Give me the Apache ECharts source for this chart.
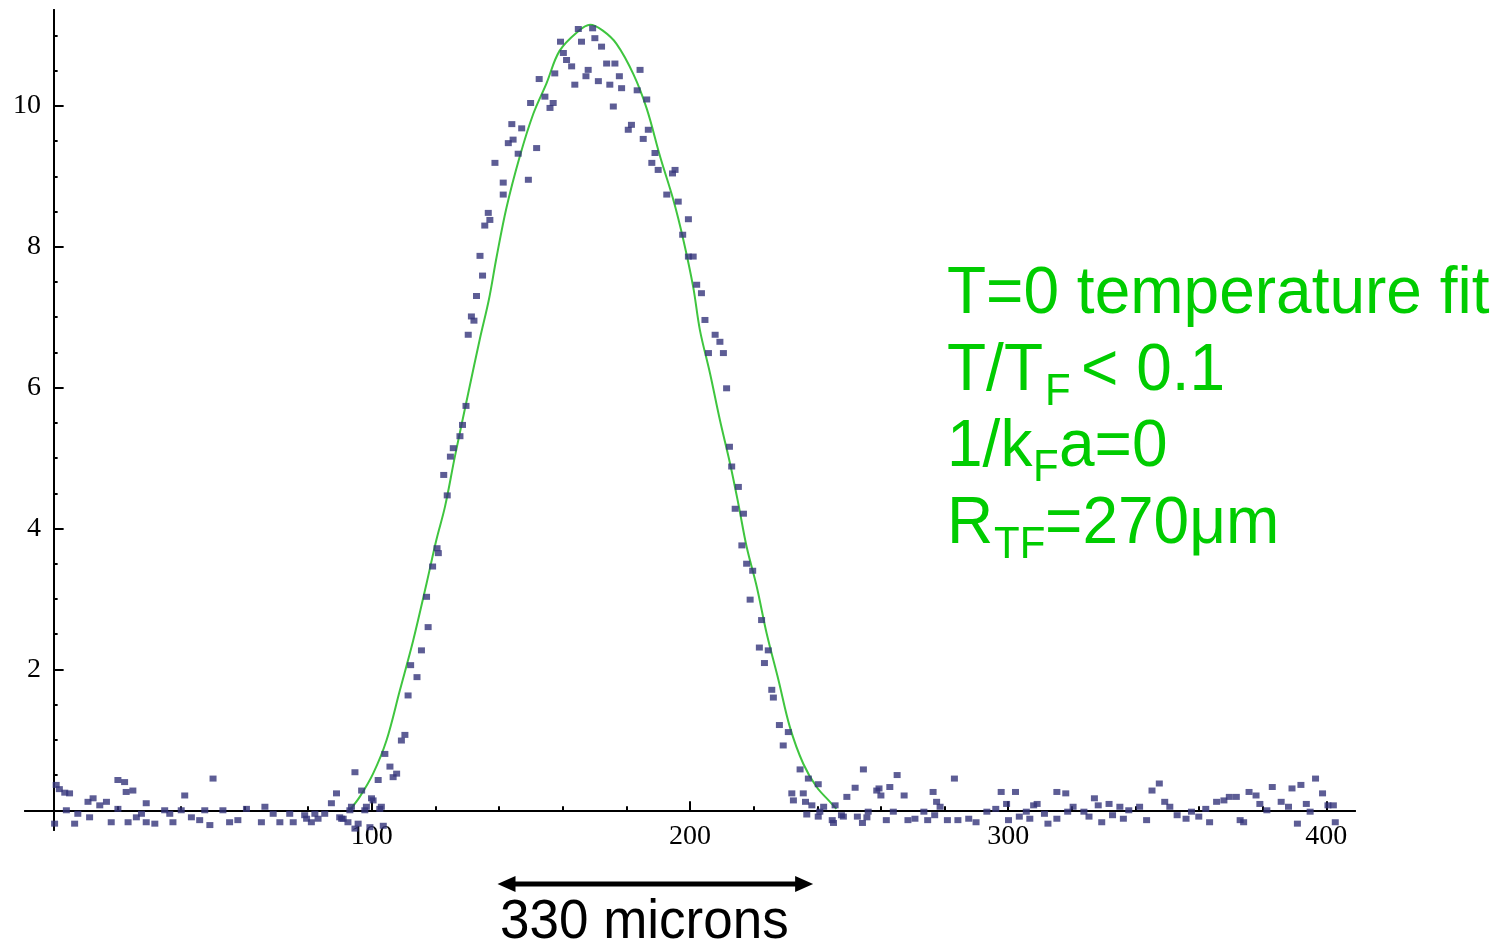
<!DOCTYPE html>
<html>
<head>
<meta charset="utf-8">
<title>T=0 temperature fit</title>
<script src="https://cdn.jsdelivr.net/npm/echarts@6/dist/echarts.min.js"></script>
<style>
	html, body { margin: 0; padding: 0; background: #ffffff; }
	#main { width: 1504px; height: 942px; }
</style>
</head>
<body>
<div id="main"></div>
<script>
	var wingLeft = [
		[0.3, -0.19], [0.8, 0.36], [1.8, 0.30], [3.5, 0.25], [4.0, 0.0], [5.0, 0.24], [6.6, -0.19], [7.6, -0.05],
		[10.8, 0.12], [11.3, -0.10], [12.4, 0.17], [14.5, 0.07], [16.6, 0.12], [18.1, -0.17], [20.2, 0.43], [20.2, 0.02],
		[22.3, 0.40], [22.8, 0.26], [23.4, -0.17], [24.9, 0.28], [26.0, -0.10], [27.6, -0.05], [29.1, 0.10], [29.1, -0.17],
		[31.8, -0.19], [34.9, 0.0], [36.5, -0.05], [37.5, -0.17], [40.1, 0.0], [41.2, 0.21], [43.3, -0.10], [45.9, -0.14],
		[47.5, 0.0], [49.1, -0.21], [50.1, 0.45], [53.2, 0.0], [55.3, -0.17], [57.9, -0.14], [60.6, 0.02], [65.3, -0.17],
		[66.4, 0.05], [69.0, -0.05], [71.1, -0.17], [74.2, -0.05], [75.3, -0.17], [78.9, -0.07], [79.5, -0.12], [81.0, -0.17],
		[82.1, -0.05], [83.1, -0.12], [85.2, -0.05], [87.3, 0.10], [88.9, 0.24], [89.9, -0.10], [90.5, -0.12], [91.0, -0.12],
		[92.5, -0.17], [93.1, 0.0], [93.6, 0.05], [94.7, 0.54], [94.7, -0.26], [95.7, -0.19], [96.8, 0.28], [97.8, 0.0],
		[98.3, 0.05], [99.4, -0.24], [99.9, 0.17]
	];
	var cloudRise = [
		[100.4, 0.14], [102.0, 0.43], [102.5, 0.02], [103.0, 0.05], [103.6, -0.22], [104.1, 0.80], [105.7, 0.62], [106.7, 0.47],
		[107.8, 0.52], [109.3, 0.99], [110.4, 1.07], [111.4, 1.63], [112.2, 2.06], [114.2, 1.89], [115.6, 2.27], [117.2, 3.03],
		[117.7, 2.60], [119.1, 3.46], [120.5, 3.72], [120.9, 3.65], [122.6, 4.76], [123.7, 4.47], [124.7, 5.02], [125.6, 5.14],
		[127.7, 5.31], [128.5, 5.47], [129.6, 5.74], [130.3, 6.75], [131.3, 7.01], [132.1, 6.95], [132.9, 7.30], [134.0, 7.87],
		[134.8, 7.59], [135.5, 8.30], [136.6, 8.48], [137.1, 8.38], [138.7, 9.19], [141.3, 8.74], [141.3, 8.91], [142.9, 9.47],
		[144.0, 9.74], [144.4, 9.52], [146.0, 9.32], [147.1, 9.68], [149.2, 8.95], [149.9, 10.04], [151.8, 9.40], [152.6, 10.38],
		[154.4, 10.13], [156.0, 9.97], [157.0, 10.04], [157.5, 10.46], [159.3, 10.91]
	];
	var cloudTop = [
		[160.2, 10.75], [161.2, 10.65], [162.8, 10.56], [163.8, 10.30], [164.9, 11.09], [165.9, 10.91], [167.3, 10.42], [168.0, 10.51],
		[169.4, 11.10], [170.1, 10.96], [171.2, 10.35], [172.2, 10.84], [173.8, 10.60], [174.8, 10.30], [175.9, 9.99], [176.4, 10.60],
		[177.8, 10.42], [178.5, 10.25], [180.6, 9.66], [181.6, 9.73], [183.4, 10.22], [184.3, 10.51]
	];
	var cloudFall = [
		[185.3, 9.53], [186.4, 10.09], [186.9, 9.66], [188.0, 9.19], [189.0, 9.33], [190.0, 9.09], [192.7, 8.74], [194.5, 9.04],
		[195.3, 9.09], [196.3, 8.64], [197.7, 8.17], [199.5, 8.39], [199.5, 7.86], [201.0, 7.86], [202.1, 7.46], [203.6, 7.34],
		[204.7, 6.96], [205.8, 6.49], [207.9, 6.75], [209.4, 6.65], [210.5, 6.49], [211.5, 5.99], [212.4, 5.16], [213.1, 4.88],
		[214.2, 4.28], [215.2, 4.59], [216.3, 3.76], [216.8, 4.21], [217.8, 3.50], [218.9, 2.99], [219.7, 3.40], [221.8, 2.31],
		[222.5, 2.70], [223.4, 2.09], [224.6, 2.27], [225.7, 1.71], [226.2, 1.60], [228.1, 1.21], [229.3, 0.92], [230.9, 1.11],
		[232.0, 0.24], [232.5, 0.14], [234.6, 0.58], [235.6, 0.24], [236.3, 0.12], [236.7, -0.06], [237.2, 0.45], [238.3, 0.07],
		[240.3, 0.37], [240.3, -0.09], [240.8, -0.02], [242.0, 0.05], [244.7, -0.14], [245.1, -0.18], [245.6, 0.07], [247.6, -0.07],
		[248.2, -0.09], [249.3, 0.19]
	];
	var wingRight = [
		[251.9, 0.32], [252.6, -0.09], [254.2, -0.18], [254.5, 0.58], [255.6, -0.10], [256.0, -0.02], [258.7, 0.28], [259.4, 0.31],
		[260.0, 0.21], [261.7, -0.14], [262.8, 0.33], [263.9, -0.02], [265.1, 0.50], [267.3, 0.21], [268.5, -0.14], [270.7, -0.12],
		[273.5, -0.02], [274.7, -0.14], [276.4, 0.26], [276.9, -0.07], [277.5, 0.12], [278.6, 0.05], [280.9, -0.14], [283.1, 0.45],
		[284.2, -0.14], [287.6, -0.12], [289.9, -0.17], [293.3, -0.02], [296.1, 0.02], [297.8, 0.26], [299.5, 0.09], [300.1, -0.14],
		[302.3, 0.26], [303.5, -0.09], [305.7, -0.02], [306.8, -0.12], [308.0, 0.07], [309.1, 0.09], [311.4, -0.05], [312.5, -0.19],
		[315.3, 0.26], [315.3, -0.12], [318.1, 0.24], [318.7, -0.02], [320.4, 0.05], [323.8, -0.02], [325.4, -0.09], [327.1, 0.17],
		[328.3, 0.07], [329.4, -0.17], [331.7, 0.09], [332.8, -0.07], [335.1, 0.05], [336.2, -0.12], [337.9, 0.0], [341.3, 0.05],
		[343.5, -0.14], [345.2, 0.28], [347.5, 0.38], [349.2, 0.12], [350.8, 0.05], [353.1, -0.07], [355.9, -0.12], [357.6, -0.02],
		[359.9, -0.09], [362.1, 0.02], [363.3, -0.17], [365.5, 0.12], [367.8, 0.14], [369.5, 0.19], [371.7, 0.19], [372.9, -0.14],
		[374.0, -0.17], [375.7, 0.26], [377.9, 0.21], [379.1, 0.09], [381.3, 0.0], [383.0, 0.33], [385.8, 0.12], [388.1, 0.05],
		[389.2, 0.31], [390.9, -0.19], [392.0, 0.36], [393.7, 0.09], [394.9, -0.02], [396.6, 0.45], [398.8, 0.24], [400.5, 0.07],
		[402.2, 0.07], [402.8, -0.17]
	];

	// green T=0 fit, sampled off the drawn curve
	var fitX = [93.0, 96.2, 100.4, 104.6, 108.8, 113.0, 117.2, 120.3, 123.0, 126.1, 130.3, 134.0, 136.8, 139.2, 142.3,
		146.5, 150.7, 154.9, 159.0, 164.9, 168.6, 172.5, 176.9, 182.2, 186.4, 190.6, 194.8, 197.9, 201.0, 203.1,
		206.3, 209.4, 212.6, 215.2, 217.8, 221.0, 224.1, 227.8, 231.4, 235.6, 239.8, 244.0, 246.0];
	var fitY = [0.0, 0.19, 0.52, 0.99, 1.70, 2.41, 3.22, 3.84, 4.31, 5.02, 5.92, 6.70, 7.25, 7.85, 8.55,
		9.28, 9.88, 10.32, 10.78, 11.06, 11.15, 11.07, 10.88, 10.45, 9.96, 9.28, 8.66, 8.10, 7.43, 6.82,
		6.20, 5.54, 4.92, 4.35, 3.74, 3.17, 2.51, 1.85, 1.18, 0.66, 0.33, 0.12, 0.02];

	// ticks
	var xMajor = [100, 200, 300, 400];
	var xMinor = [20, 40, 60, 80, 120, 140, 160, 180, 220, 240, 260, 280, 320, 340, 360, 380];
	var yMajor = [2, 4, 6, 8, 10];
	var yMinor = [0.5, 1, 1.5, 2.5, 3, 3.5, 4.5, 5, 5.5, 6.5, 7, 7.5, 8.5, 9, 9.5, 10.5, 11];

	// the "330 microns" bar, in x units
	var arrowSpan = [139.5, 238.7];

	var atoms = [].concat(wingLeft, cloudRise, cloudTop, cloudFall, wingRight);
	var fitLine = fitX.map(function(x, i) { return [x, fitY[i]]; });

	var ink = '#000000';
	var noteGreen = '#00cc00';
	var axisFont = 'Liberation Serif';

	// labels of an onZero axis stay at the grid edge here, so margins are measured from there
	function xAxisOf(ticks, len, labels) {
		return {
			type: 'value', position: 'bottom', min: -9, max: 409,
			axisLine: { onZero: true, lineStyle: { color: ink, width: 2 } },
			axisTick: { customValues: ticks, inside: true, length: len, lineStyle: { color: ink, width: 2 } },
			axisLabel: labels ? { customValues: ticks, margin: -7, color: ink, fontFamily: axisFont, fontSize: 28 } : { show: false },
			splitLine: { show: false }
		};
	}
	function yAxisOf(ticks, len, labels) {
		return {
			type: 'value', position: 'left', min: -0.28, max: 11.36,
			axisLine: { onZero: true, lineStyle: { color: ink, width: 2 } },
			axisTick: { customValues: ticks, inside: true, length: len, lineStyle: { color: ink, width: 2 } },
			axisLabel: labels ? { customValues: ticks, margin: -16, color: ink, fontFamily: axisFont, fontSize: 28 } : { show: false },
			splitLine: { show: false }
		};
	}

	// plain text at a pixel spot; y is the middle of the line, stretched a bit like the original
	function note(id, txt, x, y, size, color) {
		return {
			id: id, type: 'text', x: x, y: y, scaleY: 1.05, silent: true,
			style: {
				text: txt, x: 0, y: 0, fill: color,
				fontFamily: 'Liberation Sans', fontSize: size,
				align: 'left', verticalAlign: 'middle'
			}
		};
	}

	var chart = echarts.init(document.getElementById('main'));
	chart.setOption({
		animation: false,
		backgroundColor: '#ffffff',
		grid: { left: 25, right: 149, top: 10, bottom: 112, containLabel: false, outerBoundsMode: 'none' },
		xAxis: [xAxisOf(xMajor, 9, true), xAxisOf(xMinor, 4, false)],
		yAxis: [yAxisOf(yMajor, 10, true), yAxisOf(yMinor, 4, false)],
		series: [{
				name: 'fit',
				type: 'line',
				data: fitLine,
				smooth: 0.35,
				showSymbol: false,
				silent: true,
				z: 2,
				lineStyle: { color: '#3fc53f', width: 2 }
			},
			{
				name: 'data',
				type: 'scatter',
				data: atoms,
				symbol: 'rect',
				symbolSize: [7, 6],
				z: 3,
				itemStyle: { color: '#35347a' }
			}
		]
	});

	// double arrow under the cloud, ends taken from the x axis
	var ax = chart.convertToPixel({ xAxisIndex: 0 }, arrowSpan[0]);
	var bx = chart.convertToPixel({ xAxisIndex: 0 }, arrowSpan[1]);
	var ay = 884;

	chart.setOption({
		graphic: [
			note('n1', 'T=0 temperature fit', 947, 294.7, 64, noteGreen),
			note('n2a', 'T/T', 947, 371.7, 64, noteGreen),
			note('n2b', 'F', 1045, 392.7, 42, noteGreen),
			note('n2c', '< 0.1', 1081, 371.7, 64, noteGreen),
			note('n3a', '1/k', 947, 447.7, 64, noteGreen),
			note('n3b', 'F', 1033, 468.7, 42, noteGreen),
			note('n3c', 'a=0', 1059, 447.7, 64, noteGreen),
			note('n4a', 'R', 947, 524.7, 64, noteGreen),
			note('n4b', 'TF', 994, 545.7, 42, noteGreen),
			note('n4c', '=270\u03bcm', 1045, 524.7, 64, noteGreen),
			note('len', '330 microns', 500, 923, 53, ink),
			{
				id: 'bar', type: 'line', silent: true,
				shape: { x1: ax + 12, y1: ay, x2: bx - 12, y2: ay },
				style: { stroke: ink, lineWidth: 5 }
			},
			{
				id: 'headL', type: 'polygon', silent: true,
				shape: { points: [[ax, ay], [ax + 18, ay - 8], [ax + 18, ay + 8]] },
				style: { fill: ink }
			},
			{
				id: 'headR', type: 'polygon', silent: true,
				shape: { points: [[bx, ay], [bx - 18, ay - 8], [bx - 18, ay + 8]] },
				style: { fill: ink }
			}
		]
	});
</script>
</body>
</html>
